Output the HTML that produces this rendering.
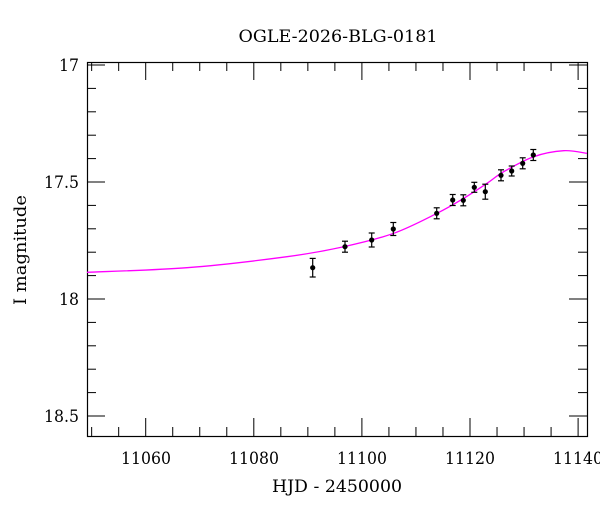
<!DOCTYPE html>
<html><head><meta charset="utf-8"><style>
html,body{margin:0;padding:0;background:#fff;}
svg{display:block;}
text{font-family:"DejaVu Serif","Liberation Serif",serif;fill:#000;}
</style></head><body>
<svg id="s" width="600" height="512" viewBox="0 0 600 512" xmlns="http://www.w3.org/2000/svg">
<text x="338" y="42" font-size="17" text-anchor="middle" textLength="199" lengthAdjust="spacingAndGlyphs">OGLE-2026-BLG-0181</text>
<rect x="87.5" y="62.5" width="500" height="374" fill="none" stroke="#000" stroke-width="1.2"/>
<g id="ticks" stroke="#000" stroke-width="1"></g>
<g font-size="17">
<text x="79" y="71" text-anchor="end" textLength="20" lengthAdjust="spacingAndGlyphs">17</text>
<text x="79" y="188" text-anchor="end" textLength="35" lengthAdjust="spacingAndGlyphs">17.5</text>
<text x="79" y="305" text-anchor="end" textLength="20" lengthAdjust="spacingAndGlyphs">18</text>
<text x="79" y="422" text-anchor="end" textLength="35" lengthAdjust="spacingAndGlyphs">18.5</text>
<text x="146" y="464" text-anchor="middle" textLength="50" lengthAdjust="spacingAndGlyphs">11060</text>
<text x="254" y="464" text-anchor="middle" textLength="50" lengthAdjust="spacingAndGlyphs">11080</text>
<text x="362" y="464" text-anchor="middle" textLength="50" lengthAdjust="spacingAndGlyphs">11100</text>
<text x="470" y="464" text-anchor="middle" textLength="50" lengthAdjust="spacingAndGlyphs">11120</text>
<text x="578" y="464" text-anchor="middle" textLength="50" lengthAdjust="spacingAndGlyphs">11140</text>
</g>
<text x="337" y="492" font-size="17" text-anchor="middle" textLength="130" lengthAdjust="spacingAndGlyphs">HJD - 2450000</text>
<text transform="translate(26,250) rotate(-90)" font-size="17" text-anchor="middle" textLength="110" lengthAdjust="spacingAndGlyphs">I magnitude</text>
<path id="curve" fill="none" stroke="#ff00ff" stroke-width="1.3"/>
<g id="pts"></g>
</svg>
<script>
var ns="http://www.w3.org/2000/svg";
function el(p,t,a){var e=document.createElementNS(ns,t);for(var k in a)e.setAttribute(k,a[k]);p.appendChild(e);return e;}
var tk=document.getElementById("ticks");
for(var d=11050;d<=11140;d+=5){var x=145.7+(d-11060)*5.405;if(x<88||x>587)continue;var L=(d%20==0)?18:9;
el(tk,"line",{x1:x,y1:436,x2:x,y2:436-L});el(tk,"line",{x1:x,y1:62,x2:x,y2:62+L});}
for(var i=0;i<=16;i++){var y=65+i*23.4;if(y<62||y>436)continue;var L=(i%5==0)?18:9;
el(tk,"line",{x1:87,y1:y,x2:87+L,y2:y});el(tk,"line",{x1:587,y1:y,x2:587-L,y2:y});}
var P=[[87,272.3],[187,267.7],[287,256.7],[343.7,246.7],[393.7,233.3],[437,213.3],[463.7,198.3],[487,183.3],[503.7,171.7],[533.7,156.7],[563.7,150.7],[587,153.3]];
var dstr="M"+P[0][0]+","+P[0][1];
for(var i=0;i<P.length-1;i++){var p0=P[Math.max(0,i-1)],p1=P[i],p2=P[i+1],p3=P[Math.min(P.length-1,i+2)];
var c1=[p1[0]+(p2[0]-p0[0])/6,p1[1]+(p2[1]-p0[1])/6],c2=[p2[0]-(p3[0]-p1[0])/6,p2[1]-(p3[1]-p1[1])/6];
dstr+=" C"+c1+" "+c2+" "+p2;}
document.getElementById("curve").setAttribute("d",dstr);
var D=[[312.7,267.7,9.3],[345,246.7,5.5],[371.7,240,7],[393.3,229,6.5],[436.7,213.3,5.5],[452.7,200,5.5],[463.3,200.3,5.5],[474.3,187.3,5],[485.3,191.7,7.5],[501,175.3,5.5],[511.7,171,5],[522.7,163.3,5.5],[533.3,155,5.5]];
var g=document.getElementById("pts");
D.forEach(function(p){var x=p[0],y=p[1],e=p[2];
el(g,"line",{x1:x,y1:y-e,x2:x,y2:y+e,stroke:"#000","stroke-width":1.2});
el(g,"line",{x1:x-3,y1:y-e,x2:x+3,y2:y-e,stroke:"#000","stroke-width":1.2});
el(g,"line",{x1:x-3,y1:y+e,x2:x+3,y2:y+e,stroke:"#000","stroke-width":1.2});
el(g,"circle",{cx:x,cy:y,r:2.6,fill:"#000"});});
</script>
</body></html>
